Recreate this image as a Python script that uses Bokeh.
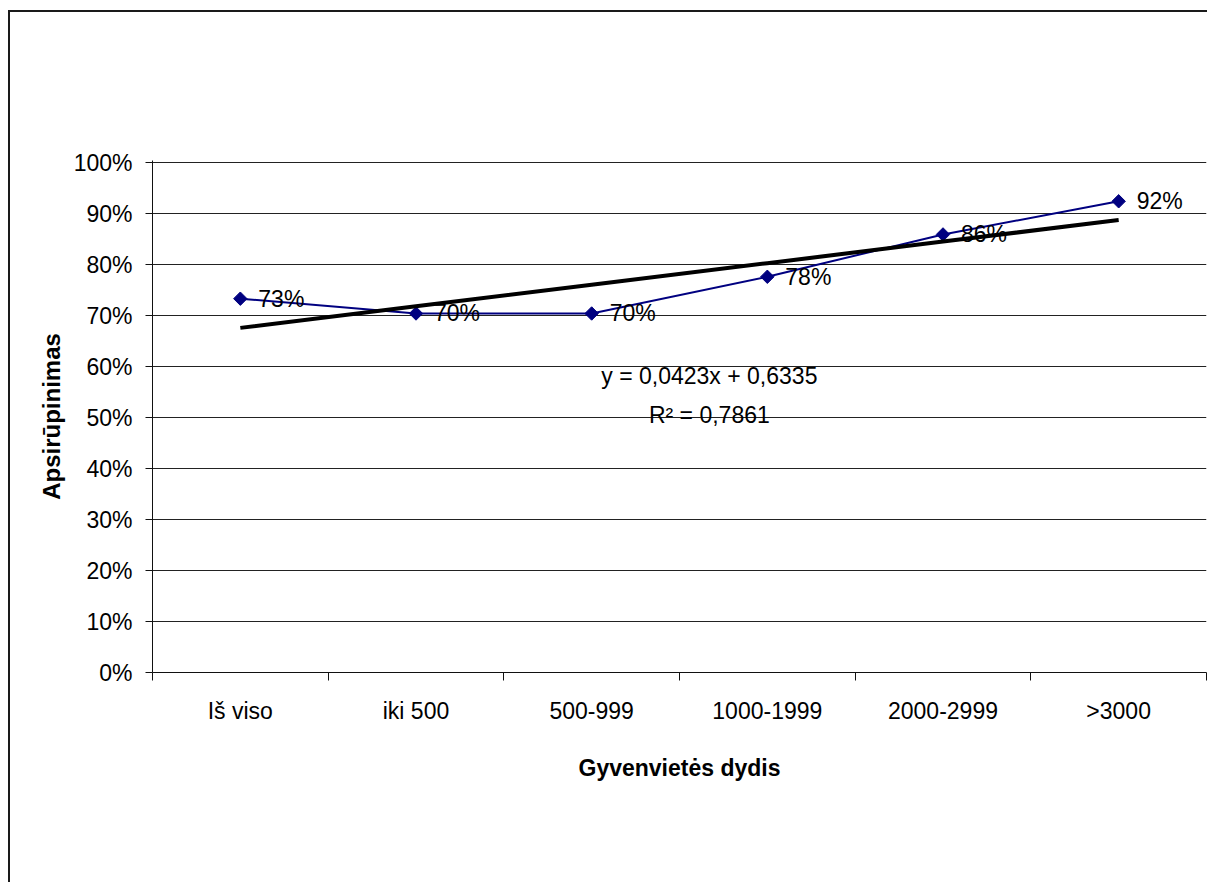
import numpy as np
from bokeh.plotting import figure
from bokeh.models import ColumnDataSource, FixedTicker, NumeralTickFormatter, Label, Range1d
from bokeh.core.properties import value
from bokeh.embed import file_html
from bokeh.resources import INLINE

# ---- data ----
categories = ["Iš viso", "iki 500", "500-999", "1000-1999", "2000-2999", ">3000"]
values = [0.733, 0.704, 0.704, 0.776, 0.859, 0.924]
trend_slope = 0.0423
trend_intercept = 0.6335
r_squared = 0.7861
y_ticks = [0.0, 0.1, 0.2, 0.3, 0.4, 0.5, 0.6, 0.7, 0.8, 0.9, 1.0]
x_title = "Gyvenvietės dydis"
y_title = "Apsirūpinimas"

x = list(range(1, len(categories) + 1))
labels = [f"{round(v * 100)}%" for v in values]
trend_y = [trend_slope * xi + trend_intercept for xi in x]

FONT = "Liberation Sans"
NAVY = "#000080"

src = ColumnDataSource(dict(x=x, y=values, label=labels))

p = figure(width=1199, height=872,
           x_range=Range1d(0.5, len(categories) + 0.5),
           y_range=Range1d(0, 1.004),
           output_backend="svg", toolbar_location=None,
           min_border_left=142, min_border_top=148,
           min_border_right=3, min_border_bottom=212)
p.styles = {"border-left": "2px solid #1a1a1a", "border-top": "2px solid #1a1a1a",
            "margin-left": "8px", "margin-top": "10px"}
p.outline_line_color = None
p.background_fill_color = "white"
p.border_fill_color = "white"

# grid
p.xgrid.visible = False
p.ygrid.ticker = FixedTicker(ticks=y_ticks)
p.ygrid.grid_line_color = "#222222"
p.ygrid.grid_line_width = 1

# x axis
xa = p.xaxis[0]
xa.ticker = FixedTicker(ticks=x, minor_ticks=[xi - 0.5 for xi in x] + [x[-1] + 0.5])
xa.major_label_overrides = {xi: c for xi, c in zip(x, categories)}
xa.major_tick_line_color = None
xa.major_tick_out = 0
xa.major_tick_in = 0
xa.minor_tick_out = 8
xa.minor_tick_in = 0
xa.minor_tick_line_color = "#111111"
xa.axis_line_color = "#111111"
xa.major_label_standoff = 17
xa.major_label_text_font = FONT
xa.major_label_text_font_size = "23px"
xa.major_label_text_color = "black"
xa.axis_label = x_title
xa.axis_label_text_font = FONT
xa.axis_label_text_font_size = "23px"
xa.axis_label_text_font_style = "bold"
xa.axis_label_text_color = "black"
xa.axis_label_standoff = 28

# y axis
ya = p.yaxis[0]
ya.ticker = FixedTicker(ticks=y_ticks)
ya.formatter = NumeralTickFormatter(format="0%")
ya.major_tick_out = 7
ya.major_tick_in = 0
ya.minor_tick_line_color = None
ya.axis_line_color = "#111111"
ya.major_tick_line_color = "#111111"
ya.major_label_standoff = 13
ya.major_label_text_font = FONT
ya.major_label_text_font_size = "23px"
ya.major_label_text_color = "black"
ya.axis_label = y_title
ya.axis_label_text_font = FONT
ya.axis_label_text_font_size = "24px"
ya.axis_label_text_font_style = "bold"
ya.axis_label_text_color = "black"
ya.axis_label_standoff = 6

# series
p.line("x", "y", source=src, line_color=NAVY, line_width=2)
p.scatter("x", "y", source=src, marker="square", angle=np.pi / 4, size=9.5,
          fill_color=NAVY, line_color=NAVY)
p.line(x, trend_y, line_color="black", line_width=4)
p.text("x", "y", text="label", source=src, x_offset=18,
       text_baseline="middle", text_align="left",
       text_font=value(FONT), text_font_size="23px", text_color="black")

eq_text = f"y = {trend_slope:.4f}x + {trend_intercept:.4f}".replace(".", ",")
r2_text = f"R² = {r_squared:.4f}".replace(".", ",")
p.add_layout(Label(x=3.67, y=0.582, text=eq_text, text_align="center",
                   text_baseline="middle", text_font=FONT,
                   text_font_size="23px", text_color="black"))
p.add_layout(Label(x=3.67, y=0.504, text=r2_text, text_align="center",
                   text_baseline="middle", text_font=FONT,
                   text_font_size="23px", text_color="black"))

open("out.html", "w").write(file_html(p, INLINE))
